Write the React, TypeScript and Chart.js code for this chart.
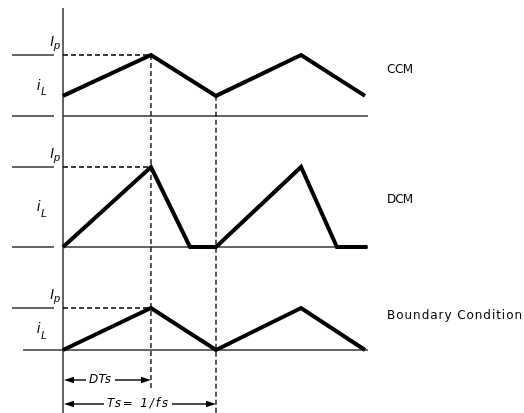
import React, { useEffect, useRef } from "react";
import { Chart, registerables } from "chart.js";
Chart.register(...registerables);

// ---------------- data (time in units of Ts, current normalised to Ip) ----------------
const DUTY = 0.575;
const ccmTime = [0, 0.575, 1, 1.556, 1.974];
const ccmCurrent = [0.33, 1, 0.33, 1, 0.33];
const dcmTime = [0, 0.575, 0.83, 1, 1.556, 1.79, 1.99];
const dcmCurrent = [0, 1, 0, 0, 1, 0, 0];
const bcmTime = [0, 0.575, 1, 1.556, 1.974];
const bcmCurrent = [0, 1, 0, 1, 0];
const modeLabels = ["CCM", "DCM", "Boundary Condition"];
const intervalLabels = ["DTs", "Ts= 1/fs"];
const intervalEnds = [DUTY, 1];

// ---------------- layout ----------------
const W = 524;
const H = 413;
const AXIS_PX = 63;
const TS_PX = 153;
const PANEL_BASE = [116, 247, 350];
const PANEL_HEIGHT = [61, 80, 42];
const BASE_LEFT = [-0.333, -0.333, -0.261];
const BASE_SPLIT = [true, true, false];
const LEFT_END = -0.059;
const RIGHT_END = 1.993;
const MODE_LABEL_LIFT = [46, 47, 34];
const MODE_LABEL_WIDTH = [26, 26, 135];
const ARROW_Y = [380, 404];
const TEXT_LEFT = [26, 44];
const TEXT_WIDTH = [22, 61];
const AXIS_TOP = 8;
const DASH_BOTTOM = [389, 413];
const LABEL_FONT = "'DejaVu Sans', 'Liberation Sans', sans-serif";

const waveforms = [
  { t: ccmTime, v: ccmCurrent },
  { t: dcmTime, v: dcmCurrent },
  { t: bcmTime, v: bcmCurrent },
];

const level = (p: number, v: number) => PANEL_BASE[p] - PANEL_HEIGHT[p] * v;
const seg = (x0: number, y0: number, x1: number, y1: number) => [
  { x: x0, y: y0 },
  { x: x1, y: y1 },
];

const thin = { borderColor: "#333", borderWidth: 1.5, order: 2 };
const dashed = { borderColor: "#000", borderWidth: 1.3, borderDash: [5, 3], order: 1 };
const thick = { borderColor: "#000", borderWidth: 4, borderJoinStyle: "miter", order: 0 };

function buildDatasets() {
  const ds: any[] = [];
  const common = { showLine: true, pointRadius: 0, fill: false, tension: 0, borderCapStyle: "butt" };
  ds.push({ ...common, ...thin, data: seg(0, AXIS_TOP, 0, H) });
  waveforms.forEach((w, p) => {
    const base = PANEL_BASE[p];
    const ip = level(p, 1);
    if (BASE_SPLIT[p]) {
      ds.push({ ...common, ...thin, data: seg(BASE_LEFT[p], base, LEFT_END, base) });
      ds.push({ ...common, ...thin, data: seg(0, base, RIGHT_END, base) });
    } else {
      ds.push({ ...common, ...thin, data: seg(BASE_LEFT[p], base, RIGHT_END, base) });
    }
    ds.push({ ...common, ...thin, data: seg(-0.333, ip, LEFT_END, ip) });
    ds.push({ ...common, ...dashed, data: seg(0, ip, DUTY, ip) });
    ds.push({
      ...common,
      ...thick,
      data: w.t.map((t, i) => ({ x: t, y: level(p, w.v[i]) })),
    });
  });
  ds.push({ ...common, ...dashed, data: seg(DUTY, level(0, 1), DUTY, DASH_BOTTOM[0]) });
  ds.push({ ...common, ...dashed, data: seg(1, level(0, ccmCurrent[2]), 1, DASH_BOTTOM[1]) });
  return ds;
}

function fitText(ctx: CanvasRenderingContext2D, text: string, x: number, y: number, target: number) {
  const natural = ctx.measureText(text).width;
  const n = text.length;
  const extra = n > 1 ? (target - natural) / (n - 1) : 0;
  (ctx as any).letterSpacing = `${extra}px`;
  ctx.fillText(text, x, y);
  (ctx as any).letterSpacing = "0px";
}

const labelsPlugin = {
  id: "labels",
  afterDatasetsDraw(chart: any) {
    const ctx: CanvasRenderingContext2D = chart.ctx;
    const xs = chart.scales.x;
    const ys = chart.scales.y;
    const ax = xs.getPixelForValue(0);
    ctx.save();
    ctx.fillStyle = "#000";
    ctx.textAlign = "left";
    for (let p = 0; p < 3; p++) {
      const ipY = ys.getPixelForValue(level(p, 1));
      const baseY = ys.getPixelForValue(PANEL_BASE[p]);
      const mid = (ipY + baseY) / 2;
      ctx.textBaseline = "alphabetic";
      ctx.font = "italic 14px 'Liberation Sans', Arial, sans-serif";
      ctx.fillText("I", ax - 13, ipY - 9);
      ctx.font = "italic 11px 'Liberation Sans', Arial, sans-serif";
      ctx.fillText("p", ax - 9, ipY - 6);
      ctx.font = "italic 14px 'Liberation Sans', Arial, sans-serif";
      ctx.fillText("i", ax - 26, mid + 4);
      ctx.font = "italic 11px 'Liberation Sans', Arial, sans-serif";
      ctx.fillText("L", ax - 22, mid + 9.5);
      ctx.font = `12px ${LABEL_FONT}`;
      ctx.textBaseline = "middle";
      fitText(ctx, modeLabels[p], xs.getPixelForValue(2.118), baseY - MODE_LABEL_LIFT[p], MODE_LABEL_WIDTH[p]);
    }
    ctx.strokeStyle = "#111";
    ctx.lineWidth = 1.5;
    intervalLabels.forEach((lab, k) => {
      const y = ys.getPixelForValue(ARROW_Y[k]);
      const x0 = ax + 1;
      const x1 = xs.getPixelForValue(intervalEnds[k]);
      const tl = ax + TEXT_LEFT[k];
      const tr = tl + TEXT_WIDTH[k];
      ctx.beginPath();
      ctx.moveTo(x0 + 6, y);
      ctx.lineTo(tl - 3, y);
      ctx.moveTo(tr + 4, y);
      ctx.lineTo(x1 - 6, y);
      ctx.stroke();
      ctx.beginPath();
      ctx.moveTo(x0, y);
      ctx.lineTo(x0 + 10, y - 3.2);
      ctx.lineTo(x0 + 10, y + 3.2);
      ctx.closePath();
      ctx.moveTo(x1, y);
      ctx.lineTo(x1 - 10, y - 3.2);
      ctx.lineTo(x1 - 10, y + 3.2);
      ctx.closePath();
      ctx.fill();
      ctx.font = `oblique 12px ${LABEL_FONT}`;
      ctx.textBaseline = "middle";
      fitText(ctx, lab, tl, y, TEXT_WIDTH[k]);
    });
    ctx.restore();
  },
};

export default function App() {
  const ref = useRef<HTMLCanvasElement | null>(null);
  useEffect(() => {
    if (!ref.current) return;
    const chart = new Chart(ref.current, {
      type: "scatter",
      data: { datasets: buildDatasets() },
      options: {
        responsive: false,
        animation: false,
        devicePixelRatio: 1,
        layout: { padding: 0 },
        plugins: { legend: { display: false }, tooltip: { enabled: false } },
        scales: {
          x: { type: "linear", display: false, min: -AXIS_PX / TS_PX, max: (W - AXIS_PX) / TS_PX },
          y: { type: "linear", display: false, min: 0, max: H, reverse: true },
        },
      } as any,
      plugins: [labelsPlugin as any],
    });
    return () => chart.destroy();
  }, []);
  return (
    <div style={{ position: "absolute", left: 0, top: 0, width: W, height: H, background: "#fff" }}>
      <canvas ref={ref} width={W} height={H} style={{ width: W, height: H, display: "block" }} />
    </div>
  );
}
